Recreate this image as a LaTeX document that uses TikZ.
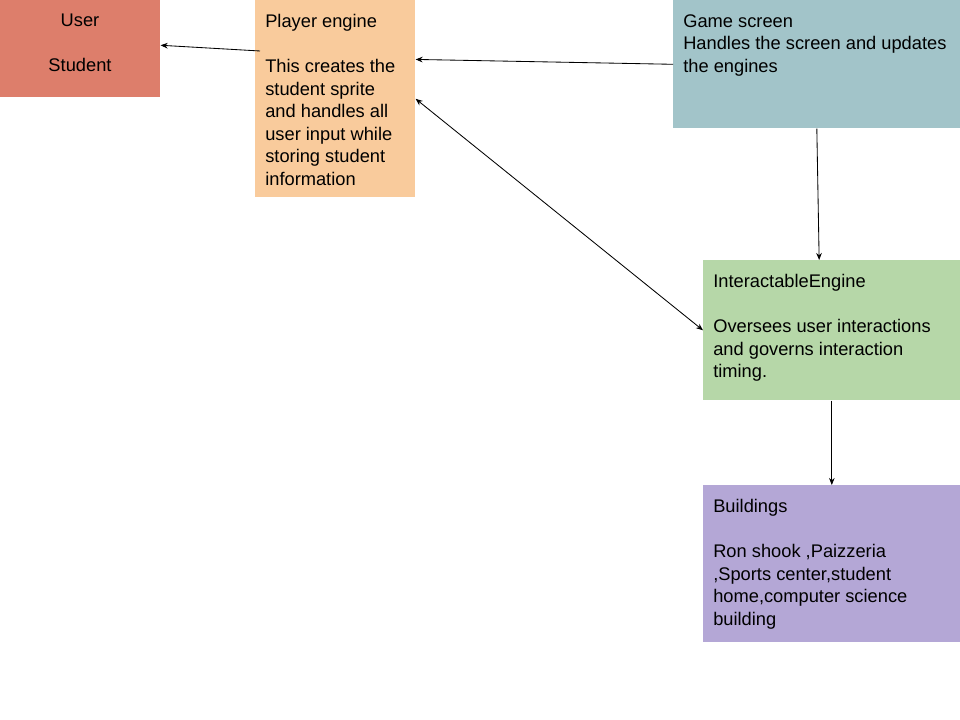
\documentclass[tikz,border=0pt]{standalone}
\usepackage{fontspec}
\setmainfont{Liberation Sans}
\usepackage{tikz}
\usetikzlibrary{arrows.meta, arrows}
\usetikzlibrary{positioning}
\usepackage{xcolor}
\definecolor{userred}{HTML}{DD7E6B}
\definecolor{playerorange}{HTML}{F9CB9C}
\definecolor{screencyan}{HTML}{A2C4C9}
\definecolor{interactgreen}{HTML}{B6D7A8}
\definecolor{buildpurple}{HTML}{B4A7D6}

\begin{document}
\begin{tikzpicture}[x=0.025cm, y=-0.025cm,
    block/.style={rectangle, inner sep=0pt, anchor=north west},
    txt/.style={inner sep=0pt, anchor=north west, align=left, font=\fontsize{13}{16}\selectfont},
    link/.style={-{Stealth[length=5pt, width=4pt]}, line width=0.6pt}]
  \useasboundingbox (0,0) rectangle (960,720);

  % User box
  \node[block, fill=userred, minimum width=4cm, minimum height=2.425cm] (user) at (0,0) {};
  \node[txt, anchor=north, align=center] (usertxt) at (80,14) {User\\[16pt]Student};

  % Player engine box
  \node[block, fill=playerorange, minimum width=4cm, minimum height=4.925cm] (player) at (255,0) {};
  \node[txt] (playertxt) at (265,14) {Player engine\\[16pt]This creates the\\student sprite\\and handles all\\user input while\\storing student\\information};

  % Game screen box
  \node[block, fill=screencyan, minimum width=7.175cm, minimum height=3.2cm] (game) at (673,0) {};
  \node[txt] (gametxt) at (683,14) {Game screen\\Handles the screen and updates\\the engines};

  % InteractableEngine box
  \node[block, fill=interactgreen, minimum width=6.425cm, minimum height=3.5cm] (inter) at (703,260) {};
  \node[txt] (intertxt) at (713,274) {InteractableEngine\\[16pt]Oversees user interactions\\and governs interaction\\timing.};

  % Buildings box
  \node[block, fill=buildpurple, minimum width=6.425cm, minimum height=3.925cm] (build) at (703,485) {};
  \node[txt] (buildtxt) at (713,499) {Buildings\\[16pt]Ron shook ,Paizzeria\\,Sports center,student\\home,computer science\\building};

  \coordinate (pstart) at (260,51);

  % Arrows between the engines
  \path [link] (pstart) edge ([yshift=2.5pt]user.east);
  \path [link] (game.west) edge ([yshift=28pt]player.east);
  \path [link, {Stealth[length=5pt, width=4pt]}-{Stealth[length=5pt, width=4pt]}] (player.east) edge (inter.west);
  \path [link] (game.south) edge ([xshift=-9pt]inter.north);
  \path [link] (inter.south) edge (build.north);
\end{tikzpicture}
\end{document}
